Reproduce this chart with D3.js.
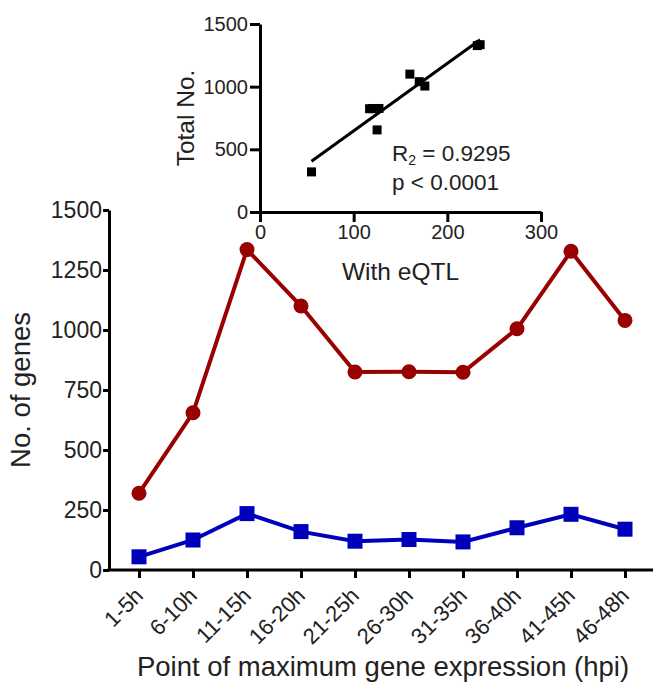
<!DOCTYPE html>
<html>
<head>
<meta charset="utf-8">
<script src="https://cdn.jsdelivr.net/npm/d3@7"></script>
<style>
  body { margin: 0; background: #fff; }
  svg text { font-family: "Liberation Sans", Arial, sans-serif; fill: #222; }
  .axis path, .axis line { stroke: #000; stroke-width: 3; }
</style>
</head>
<body>
<div id="chart"></div>
<script>
// data
const timeBins = ["1-5h", "6-10h", "11-15h", "16-20h", "21-25h", "26-30h", "31-35h", "36-40h", "41-45h", "46-48h"];
const totalGenes = [320, 655, 1335, 1100, 825, 826, 824, 1005, 1328, 1040];
const eqtlGenes = [55, 125, 235, 160, 120, 127, 117, 176, 232, 170];
const mainYTicks = [0, 250, 500, 750, 1000, 1250, 1500];
const insetXTicks = [0, 100, 200, 300];
const insetYTicks = [0, 500, 1000, 1500];
const r2Label = "0.9295";
const pLabel = "p < 0.0001";

const width = 653;
const height = 688;
const fmt = d3.format("d");

const svg = d3.select("#chart")
  .append("svg")
  .attr("width", width)
  .attr("height", height);

// main chart scales
const x = d3.scalePoint().domain(timeBins).range([139, 625]);
const y = d3.scaleLinear().domain([0, 1500]).range([570, 210]);
const axisLeftX = 109;

// main y axis
const yAxis = svg.append("g")
  .attr("class", "axis")
  .attr("transform", `translate(${axisLeftX},0)`)
  .call(d3.axisLeft(y).tickValues(mainYTicks).tickFormat(fmt).tickSize(6).tickSizeOuter(0).tickPadding(1));
yAxis.selectAll("text").style("font-size", "23px").attr("fill", "#222");

// main x axis
const xAxis = svg.append("g")
  .attr("class", "axis")
  .attr("transform", `translate(0,${y(0)})`)
  .call(d3.axisBottom(x).tickSize(8).tickSizeOuter(0));
xAxis.select(".domain").remove();
xAxis.append("line")
  .attr("x1", axisLeftX - 1.5).attr("x2", width)
  .attr("y1", 0).attr("y2", 0);
xAxis.selectAll("text")
  .style("font-size", "22px")
  .attr("fill", "#222")
  .attr("text-anchor", "end")
  .attr("dy", null)
  .attr("y", 0)
  .attr("transform", "translate(5,27) rotate(-45)");

// axis titles
svg.append("text")
  .attr("transform", `translate(30,${(y(0) + y(1500)) / 2}) rotate(-90)`)
  .attr("text-anchor", "middle")
  .style("font-size", "27.5px")
  .text("No. of genes");

svg.append("text")
  .attr("x", 383)
  .attr("y", 676)
  .attr("text-anchor", "middle")
  .style("font-size", "27.5px")
  .text("Point of maximum gene expression (hpi)");

// lines
const line = d3.line()
  .x((d, i) => x(timeBins[i]))
  .y(d => y(d));

svg.append("path")
  .datum(totalGenes)
  .attr("fill", "none")
  .attr("stroke", "#990000")
  .attr("stroke-width", 4)
  .attr("d", line);

svg.append("path")
  .datum(eqtlGenes)
  .attr("fill", "none")
  .attr("stroke", "#0000bb")
  .attr("stroke-width", 4)
  .attr("d", line);

svg.selectAll("circle.total")
  .data(totalGenes)
  .enter()
  .append("circle")
  .attr("class", "total")
  .attr("cx", (d, i) => x(timeBins[i]))
  .attr("cy", d => y(d))
  .attr("r", 7.5)
  .attr("fill", "#990000");

const sq = 15;
svg.selectAll("rect.eqtl")
  .data(eqtlGenes)
  .enter()
  .append("rect")
  .attr("class", "eqtl")
  .attr("x", (d, i) => x(timeBins[i]) - sq / 2)
  .attr("y", d => y(d) - sq / 2)
  .attr("width", sq)
  .attr("height", sq)
  .attr("fill", "#0000bb");

// inset scatter
const ix = d3.scaleLinear().domain([0, 300]).range([260, 541]);
const iy = d3.scaleLinear().domain([0, 1500]).range([212, 24]);

const ixAxis = svg.append("g")
  .attr("class", "axis")
  .attr("transform", `translate(0,${iy(0)})`)
  .call(d3.axisBottom(ix).tickValues(insetXTicks).tickFormat(fmt).tickSize(10).tickSizeOuter(0).tickPadding(3));
ixAxis.selectAll("text").style("font-size", "20px").attr("fill", "#222");

const iyAxis = svg.append("g")
  .attr("class", "axis")
  .attr("transform", `translate(${ix(0)},0)`)
  .call(d3.axisLeft(iy).tickValues(insetYTicks).tickFormat(fmt).tickSize(10).tickSizeOuter(0).tickPadding(2));
iyAxis.selectAll("text").style("font-size", "20px").attr("fill", "#222");

svg.append("text")
  .attr("x", (ix(0) + ix(300)) / 2)
  .attr("y", 280)
  .attr("text-anchor", "middle")
  .style("font-size", "24.5px")
  .text("With eQTL");

svg.append("text")
  .attr("transform", `translate(194,${(iy(0) + iy(1500)) / 2}) rotate(-90)`)
  .attr("text-anchor", "middle")
  .style("font-size", "24.5px")
  .text("Total No.");

// regression line from the data
const pairs = eqtlGenes.map((v, i) => [v, totalGenes[i]]);
const mx = d3.mean(pairs, d => d[0]);
const my = d3.mean(pairs, d => d[1]);
const slope = d3.sum(pairs, d => (d[0] - mx) * (d[1] - my)) / d3.sum(pairs, d => (d[0] - mx) ** 2);
const intercept = my - slope * mx;
const [xmin, xmax] = d3.extent(pairs, d => d[0]);

svg.append("line")
  .attr("x1", ix(xmin)).attr("y1", iy(intercept + slope * xmin))
  .attr("x2", ix(xmax)).attr("y2", iy(intercept + slope * xmax))
  .attr("stroke", "#000")
  .attr("stroke-width", 3);

const ps = 9;
svg.selectAll("rect.pt")
  .data(pairs)
  .enter()
  .append("rect")
  .attr("class", "pt")
  .attr("x", d => ix(d[0]) - ps / 2)
  .attr("y", d => iy(d[1]) - ps / 2)
  .attr("width", ps)
  .attr("height", ps)
  .attr("fill", "#000");

// stats text
const r2 = svg.append("text")
  .attr("x", 392)
  .attr("y", 161)
  .style("font-size", "22.5px");
r2.append("tspan").text("R");
r2.append("tspan").attr("dy", 4).style("font-size", "14px").text("2");
r2.append("tspan").attr("dy", -4).text(" = " + r2Label);

svg.append("text")
  .attr("x", 392)
  .attr("y", 190)
  .style("font-size", "22.5px")
  .text(pLabel);
</script>
</body>
</html>
